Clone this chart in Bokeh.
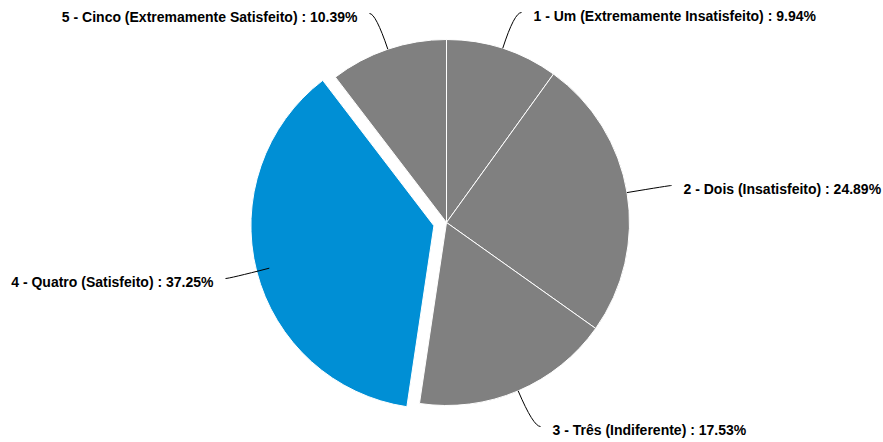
import numpy as np
from bokeh.plotting import figure
from bokeh.embed import file_html
from bokeh.resources import INLINE
from bokeh.core.properties import value

# ---- data ----
categories = ["1 - Um (Extremamente Insatisfeito)", "2 - Dois (Insatisfeito)",
              "3 - Três (Indiferente)", "4 - Quatro (Satisfeito)",
              "5 - Cinco (Extremamente Satisfeito)"]
shares = [9.94, 24.89, 17.53, 37.25, 10.39]
exploded = [False, False, False, True, False]

# ---- layout ----
W, H = 883, 442
CX, CY = 446, 442 - 222   # pie centre (data coords, y up)
R = 183
EXPLODE = 13
GRAY = "#808080"
BLUE = "#008fd5"
# connector end points (screen coords) and label side
label_ends = [(521, 12), (671, 185), (540, 426), (225, 278), (369, 13)]
label_side = ["left", "left", "left", "right", "right"]
GAP = 12

p = figure(width=W, height=H, x_range=(0, W), y_range=(442 - H, 442),
           output_backend="svg", toolbar_location=None, min_border=0)
p.axis.visible = False
p.grid.visible = False
p.outline_line_color = None
p.background_fill_color = "white"

total = sum(shares)
cum = np.cumsum([0] + shares) / total
for i, s in enumerate(shares):
    a0 = np.pi / 2 - 2 * np.pi * cum[i]
    a1 = np.pi / 2 - 2 * np.pi * cum[i + 1]
    mid = (a0 + a1) / 2
    cx, cy = CX, CY
    if exploded[i]:
        cx += EXPLODE * np.cos(mid)
        cy += EXPLODE * np.sin(mid)
    p.wedge(x=cx, y=cy, radius=R, start_angle=a0, end_angle=a1, direction="clock",
            fill_color=BLUE if exploded[i] else GRAY, line_color="white", line_width=1)

    # connector
    sx, sy = CX + R * np.cos(mid), CY + R * np.sin(mid)
    ex, ey = label_ends[i][0], 442 - label_ends[i][1]
    t = (ey - sy) / np.sin(mid)
    qx, qy = sx + t * np.cos(mid), ey
    p.quadratic(x0=sx, y0=sy, x1=ex, y1=ey, cx=qx, cy=qy, line_color="black", line_width=1)

    txt = f"{categories[i]} : {s:.2f}%"
    if label_side[i] == "left":
        tx, align = ex + GAP, "left"
    else:
        tx, align = ex - GAP, "right"
    p.text(x=[tx], y=[ey - 3], text=[txt], text_align=align, text_baseline="middle",
           text_font=value("Liberation Sans"), text_font_style="bold",
           text_font_size="14px", text_color="black")

open("out.html", "w").write(file_html(p, INLINE))
